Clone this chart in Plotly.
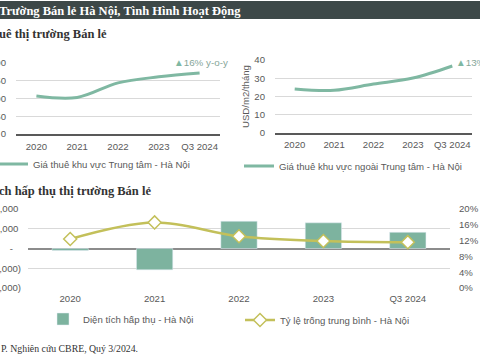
import plotly.graph_objects as go

# ---------------- data ----------------
years = ["2020", "2021", "2022", "2023", "Q3 2024"]
rent_cbd = [107, 103, 144, 161, 172]            # Giá thuê khu vực Trung tâm
rent_noncbd = [24.1, 23.4, 26.8, 30.1, 36.7]    # Giá thuê khu vực ngoài Trung tâm
net_absorption = [-1000, -10800, 13800, 13000, 8200]
vacancy = [12.4, 16.6, 13.1, 11.9, 11.6]

abs_tickvals = [-20000, -10000, 0, 10000, 20000]
abs_ticktext = ["(20,000)", "(10,000)", "-\u00a0\u00a0\u00a0", "10,000\u00a0", "20,000\u00a0"]

W, H = 480, 360
def px(x):
    return x / W
def py(y):
    return 1 - y / H

TEAL = "#7fb8a2"
BAR = "#7db39f"
OLIVE = "#c3c05a"
GRID = "#d9d9d9"
TXT = "#595959"
SANS = "Liberation Sans, Arial, sans-serif"
SERIF = "Liberation Serif, Times New Roman, serif"

fig = go.Figure()

fig.add_trace(go.Scatter(
    x=years, y=rent_cbd, mode="lines", line=dict(color=TEAL, width=3, shape="spline"),
    name="Giá thuê khu vực Trung tâm - Hà Nội", xaxis="x", yaxis="y", legend="legend"))

fig.add_trace(go.Scatter(
    x=years, y=rent_noncbd, mode="lines", line=dict(color=TEAL, width=3, shape="spline"),
    name="Giá thuê khu vực ngoài Trung tâm - Hà Nội", xaxis="x2", yaxis="y2", legend="legend2"))

fig.add_trace(go.Bar(
    x=years, y=net_absorption, marker=dict(color=BAR), width=0.43,
    name="Diện tích hấp thụ - Hà Nội", xaxis="x3", yaxis="y3", legend="legend3"))

fig.add_trace(go.Scatter(
    x=years, y=vacancy, mode="lines+markers",
    line=dict(color=OLIVE, width=2.5, shape="spline"),
    marker=dict(symbol="diamond", size=10, color="white", line=dict(color=OLIVE, width=1.5)),
    name="Tỷ lệ trống trung bình - Hà Nội", xaxis="x3", yaxis="y4", legend="legend4"))

tickfont = dict(family=SANS, size=9.6, color=TXT)
legfont = dict(family=SANS, size=9.6, color=TXT)

fig.update_layout(
    width=W, height=H, margin=dict(l=0, r=0, t=0, b=0, autoexpand=False),
    paper_bgcolor="white", plot_bgcolor="white", showlegend=True,
    font=dict(family=SANS, size=10, color=TXT),
    xaxis=dict(domain=[px(16), px(220)], anchor="y", type="category", range=[-0.5, 4.5],
               showgrid=False, showline=True, linecolor="#595959", linewidth=1.5,
               tickfont=tickfont, ticks="", ticklabelstandoff=3, automargin=False),
    yaxis=dict(domain=[py(134), py(63)], anchor="x", range=[0, 200], dtick=50,
               showgrid=True, gridcolor=GRID, zeroline=False, tickfont=tickfont,
               ticklabelstandoff=9, automargin=False),
    xaxis2=dict(domain=[px(275), px(472)], anchor="y2", type="category", range=[-0.5, 4.5],
                showgrid=False, showline=True, linecolor="#595959", linewidth=1.5,
                tickfont=tickfont, ticks="", ticklabelstandoff=2, automargin=False),
    yaxis2=dict(domain=[py(133), py(60)], anchor="x2", range=[0, 40], dtick=10,
                showgrid=True, gridcolor=GRID, zeroline=False, tickfont=tickfont,
                ticklabelstandoff=9, automargin=False,
                title=dict(text="USD/m2/tháng", font=dict(family=SANS, size=9.6, color=TXT),
                           standoff=2)),
    xaxis3=dict(domain=[px(28), px(450)], anchor="y3", type="category", range=[-0.5, 4.5],
                showgrid=False, showline=False, tickfont=tickfont, ticks="",
                ticklabelstandoff=3, automargin=False),
    yaxis3=dict(domain=[py(288), py(209)], anchor="x3", range=[-20000, 20000],
                tickvals=abs_tickvals, ticktext=abs_ticktext,
                showgrid=True, gridcolor=GRID, zeroline=True, zerolinecolor="#8c8c8c",
                zerolinewidth=2, tickfont=tickfont, ticklabelstandoff=6, automargin=False),
    yaxis4=dict(overlaying="y3", side="right", anchor="x3", range=[0, 20], dtick=4,
                ticksuffix="%", showgrid=False, zeroline=False, tickfont=tickfont,
                ticklabelstandoff=8, automargin=False),
    legend=dict(x=px(-7), y=py(164), xanchor="left", yanchor="middle", orientation="h",
                font=legfont, bgcolor="rgba(0,0,0,0)"),
    legend2=dict(x=px(239), y=py(166), xanchor="left", yanchor="middle", orientation="h",
                 font=legfont, bgcolor="rgba(0,0,0,0)"),
    legend3=dict(x=px(43), y=py(319), xanchor="left", yanchor="middle", orientation="h",
                 font=legfont, bgcolor="rgba(0,0,0,0)"),
    legend4=dict(x=px(240), y=py(320), xanchor="left", yanchor="middle", orientation="h",
                 font=legfont, bgcolor="rgba(0,0,0,0)"),
)

# header bar
fig.add_shape(type="rect", xref="paper", yref="paper", x0=0, x1=1, y0=py(19), y1=py(1),
              fillcolor="#3d4848", line=dict(width=0), layer="below")

def note(text, x, y, size, color, family, bold=False, xanchor="left"):
    t = f"<b>{text}</b>" if bold else text
    fig.add_annotation(text=t, xref="paper", yref="paper", x=px(x), y=py(y),
                       xanchor=xanchor, yanchor="middle", showarrow=False,
                       font=dict(family=family, size=size, color=color))

note("Trường Bán lẻ Hà Nội, Tình Hình Hoạt Động", -3, 11, 12.5, "white", SERIF, bold=True)
note("uê thị trường Bán lẻ", -3, 34, 12.5, "#333333", SERIF, bold=True)
note("ch hấp thụ thị trường Bán lẻ", -3, 191, 12.5, "#333333", SERIF, bold=True)
note("P. Nghiên cứu CBRE, Quý 3/2024.", -1, 348, 9.8, "#333333", SERIF)

note(f"<span style='color:{TEAL}'>▲</span>16% y-o-y", 172, 62, 9.8, "#86a699", SANS)
note(f"<span style='color:{TEAL}'>▲</span>13% y-o-y", 454, 62, 9.8, "#86a699", SANS)

fig.write_html("out.html", config={"displayModeBar": False},
               post_script="document.body.style.margin='0px';")
